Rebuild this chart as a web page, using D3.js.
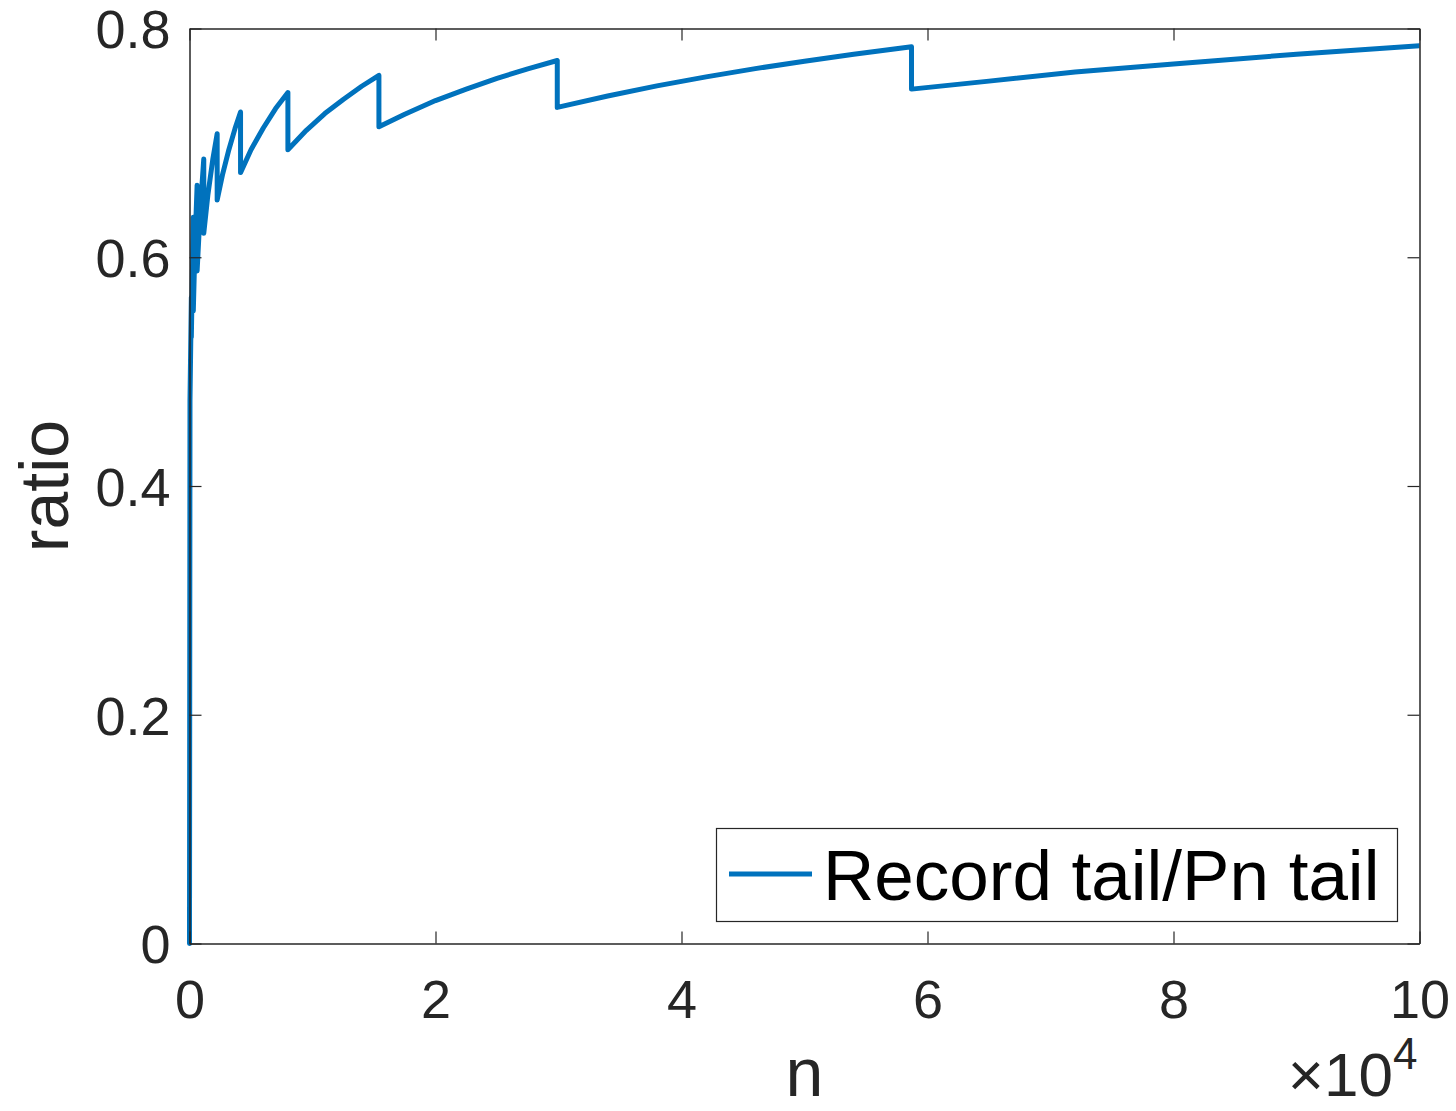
<!DOCTYPE html>
<html>
<head>
<meta charset="utf-8">
<script src="https://cdn.jsdelivr.net/npm/d3@7"></script>
<style>
  html, body { margin: 0; padding: 0; background: #fff; }
  svg { display: block; }
  text { font-family: "Liberation Sans", Arial, Helvetica, sans-serif; fill: #262626; }
</style>
</head>
<body>
<svg id="chart" width="1456" height="1111"></svg>
<script>
// Ratio of record tail to Pn tail as n grows; drops occur at each new record.
const nValues = [
  0, 40, 150, 150, 310, 310, 450, 620, 620, 850, 1160, 1160, 1500, 1900, 2250, 2250,
  2700, 3200, 3700, 4150, 4150, 5000, 6000, 7000, 8000, 8000,
  9500, 11000, 12500, 14000, 15400, 15400,
  17500, 20000, 22500, 25000, 27500, 29900, 29900,
  34000, 38000, 42000, 46000, 50000, 54000, 58700, 58700,
  65000, 72000, 80000, 90000, 100000
];
const ratioValues = [
  0, 0.475, 0.565, 0.530, 0.635, 0.553, 0.612, 0.663, 0.588, 0.637, 0.686, 0.621, 0.655, 0.686, 0.708, 0.650,
  0.673, 0.694, 0.7125, 0.727, 0.674, 0.694, 0.713, 0.730, 0.744, 0.694,
  0.711, 0.7256, 0.738, 0.7495, 0.759, 0.714,
  0.725, 0.737, 0.747, 0.7564, 0.7647, 0.772, 0.731,
  0.741, 0.7498, 0.7577, 0.7649, 0.7714, 0.7774, 0.784, 0.747,
  0.754, 0.762, 0.769, 0.7775, 0.785
];
const xTicks = [0, 20000, 40000, 60000, 80000, 100000];
const xTickLabels = ["0", "2", "4", "6", "8", "10"];
const yTicks = [0, 0.2, 0.4, 0.6, 0.8];
const yTickLabels = ["0", "0.2", "0.4", "0.6", "0.8"];
const seriesName = "Record tail/Pn tail";

const svg = d3.select("#chart");
const plotLeft = 189.5, plotRight = 1419.5, plotTop = 28.5, plotBottom = 943.5;
const axisColor = "#262626";
const lineColor = "#0072BD";

const x = d3.scaleLinear().domain([0, 100000]).range([plotLeft, plotRight]);
const y = d3.scaleLinear().domain([0, 0.8]).range([plotBottom, plotTop]);

const points = nValues.map((n, i) => [n, ratioValues[i]]);

// data line, clipped to the axes box
svg.append("clipPath").attr("id", "plotClip")
  .append("rect").attr("x", plotLeft - 3).attr("y", plotTop)
  .attr("width", plotRight - plotLeft + 3).attr("height", plotBottom - plotTop + 3);

svg.append("path")
  .datum(points)
  .attr("clip-path", "url(#plotClip)")
  .attr("fill", "none")
  .attr("stroke", lineColor)
  .attr("stroke-width", 5)
  .attr("stroke-linejoin", "round")
  .attr("stroke-linecap", "round")
  .attr("d", d3.line().x(d => x(d[0])).y(d => y(d[1])));

// axes with inward ticks on all four sides
const tickLen = 12;
const xBottom = svg.append("g").attr("transform", `translate(0,${plotBottom})`)
  .call(d3.axisBottom(x).tickValues(xTicks).tickSizeInner(-tickLen).tickSizeOuter(0).tickPadding(36)
    .tickFormat((d, i) => xTickLabels[i]));
const xTop = svg.append("g").attr("transform", `translate(0,${plotTop})`)
  .call(d3.axisTop(x).tickValues(xTicks).tickSizeInner(-tickLen).tickSizeOuter(0).tickFormat(""));
const yLeft = svg.append("g").attr("transform", `translate(${plotLeft},0)`)
  .call(d3.axisLeft(y).tickValues(yTicks).tickSizeInner(-tickLen).tickSizeOuter(0).tickPadding(19)
    .tickFormat((d, i) => yTickLabels[i]));
const yRight = svg.append("g").attr("transform", `translate(${plotRight},0)`)
  .call(d3.axisRight(y).tickValues(yTicks).tickSizeInner(-tickLen).tickSizeOuter(0).tickFormat(""));

[xBottom, xTop, yLeft, yRight].forEach(g => {
  g.select(".domain").attr("stroke", axisColor).attr("stroke-width", 1.5);
  g.selectAll(".tick line").attr("stroke", axisColor).attr("stroke-width", 1.2);
  g.selectAll(".tick text").attr("fill", axisColor)
    .style("font-family", "'Liberation Sans', Arial, sans-serif").style("font-size", "54px");
});
xBottom.selectAll(".tick text").attr("dy", "0.71em").attr("y", 36);
yLeft.selectAll(".tick text").attr("dy", "0.36em");

// axis labels
svg.append("text")
  .attr("x", (plotLeft + plotRight) / 2).attr("y", 1096)
  .attr("text-anchor", "middle")
  .style("font-size", "68px")
  .text("n");

svg.append("text")
  .attr("transform", `translate(68,${(plotTop + plotBottom) / 2}) rotate(-90)`)
  .attr("text-anchor", "middle")
  .style("font-size", "68px")
  .text("ratio");

// exponent multiplier for the x axis
const mult = svg.append("text")
  .attr("x", plotRight - 2).attr("y", 1096)
  .attr("text-anchor", "end")
  .style("font-size", "62px");
mult.append("tspan").text("\u00d710");
mult.append("tspan").attr("dy", -27).style("font-size", "44px").text("4");

// legend
const legend = svg.append("g");
legend.append("rect")
  .attr("x", 716.5).attr("y", 828.5).attr("width", 681).attr("height", 93)
  .attr("fill", "#fff").attr("stroke", axisColor).attr("stroke-width", 1.2);
legend.append("line")
  .attr("x1", 729).attr("x2", 812).attr("y1", 874).attr("y2", 874)
  .attr("stroke", lineColor).attr("stroke-width", 5);
legend.append("text")
  .attr("x", 823).attr("y", 900)
  .style("font-size", "71px")
  .style("fill", "#000")
  .text(seriesName);
</script>
</body>
</html>
